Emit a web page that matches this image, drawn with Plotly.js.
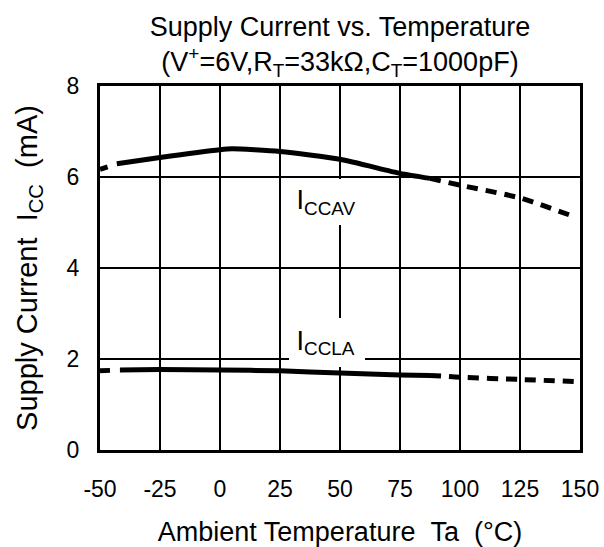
<!DOCTYPE html>
<html>
<head>
<meta charset="utf-8">
<script src="https://cdn.plot.ly/plotly-3.0.1.min.js"></script>
<style>html,body{margin:0;padding:0;background:#fff;}#chart{width:604px;height:547px;}</style>
</head>
<body>
<div id="chart"></div>
<script>
// Data
var tempsAV = [-50, -43, -25, 0, 5, 25, 50, 75, 87.5, 100, 125, 148];
var iccAV   = [6.17, 6.29, 6.43, 6.60, 6.62, 6.56, 6.39, 6.08, 5.97, 5.82, 5.54, 5.12];
var tempsLA = [-50, -41.7, -25, 0, 25, 50, 75, 87.5, 100, 125, 150];
var iccLA   = [1.74, 1.76, 1.77, 1.76, 1.74, 1.69, 1.65, 1.64, 1.60, 1.55, 1.50];
var xTicks = [-50, -25, 0, 25, 50, 75, 100, 125, 150];
var yTicks = [0, 2, 4, 6, 8];
var NB = '\u00a0';
var labelAV = NB + 'I<sub>CCAV</sub>';
var labelLA = NB + 'I<sub>CCLA</sub>';

var FONT = 'Liberation Sans, Arial, sans-serif';

function seg(xs, ys, a, b, dash) {
  return {
    x: xs.slice(a, b + 1), y: ys.slice(a, b + 1),
    type: 'scatter', mode: 'lines', hoverinfo: 'skip', showlegend: false,
    line: {color: '#000', width: 5, dash: dash, shape: 'spline', smoothing: 0.6}
  };
}

var traces = [
  seg(tempsAV, iccAV, 0, 1, '8px,12px'),
  seg(tempsAV, iccAV, 1, 8, 'solid'),
  seg(tempsAV, iccAV, 8, tempsAV.length - 1, '11px,8px'),
  seg(tempsLA, iccLA, 0, 1, '10px,10px'),
  seg(tempsLA, iccLA, 1, 7, 'solid'),
  seg(tempsLA, iccLA, 7, tempsLA.length - 1, '11px,8px')
];

var layout = {
  width: 604, height: 547,
  margin: {l: 100, r: 24, t: 86, b: 97, pad: 0},
  paper_bgcolor: '#fff', plot_bgcolor: '#fff',
  font: {family: FONT, color: '#000', size: 23},
  title: {
    text: 'Supply Current vs. Temperature<br>(V<sup>+</sup>=6V,R<sub>T</sub>=33k\u03A9,C<sub>T</sub>=1000pF)',
    x: 0.5, xref: 'paper', xanchor: 'center',
    y: 1 - 36/547, yref: 'container', yanchor: 'top',
    font: {family: FONT, size: 27, color: '#000'}
  },
  xaxis: {
    range: [-50, 150], tickvals: xTicks, ticktext: xTicks.map(String),
    showgrid: true, gridcolor: '#000', gridwidth: 2,
    showline: true, mirror: true, linecolor: '#000', linewidth: 3,
    zeroline: false, ticks: '', fixedrange: true, ticklabelstandoff: 16,
    tickfont: {family: FONT, size: 23, color: '#000'},
    title: {text: 'Ambient Temperature' + NB + NB + 'Ta' + NB + NB + '(\u00B0C)', font: {family: FONT, size: 27, color: '#000'}, standoff: 25}
  },
  yaxis: {
    range: [0, 8], tickvals: yTicks, ticktext: yTicks.map(String),
    showgrid: true, gridcolor: '#000', gridwidth: 2,
    showline: true, mirror: true, linecolor: '#000', linewidth: 3,
    zeroline: false, ticks: '', fixedrange: true, ticklabelstandoff: 13,
    tickfont: {family: FONT, size: 23, color: '#000'},
    title: {text: 'Supply Current' + NB + NB + 'I<sub>CC</sub>' + NB + NB + '(mA)', font: {family: FONT, size: 29, color: '#000'}, standoff: 21}
  },
  annotations: [
    {x: 44.4, y: 5.45, xref: 'x', yref: 'y', text: labelAV, showarrow: false,
     bgcolor: '#fff', borderpad: 0, borderwidth: 0, width: 76, height: 46, align: 'left',
     font: {family: FONT, size: 27, color: '#000'}},
    {x: 44.4, y: 2.36, xref: 'x', yref: 'y', text: labelLA, showarrow: false,
     bgcolor: '#fff', borderpad: 0, borderwidth: 0, width: 76, height: 49, align: 'left',
     font: {family: FONT, size: 27, color: '#000'}}
  ]
};

Plotly.newPlot('chart', traces, layout, {staticPlot: true, displayModeBar: false});
</script>
</body>
</html>
